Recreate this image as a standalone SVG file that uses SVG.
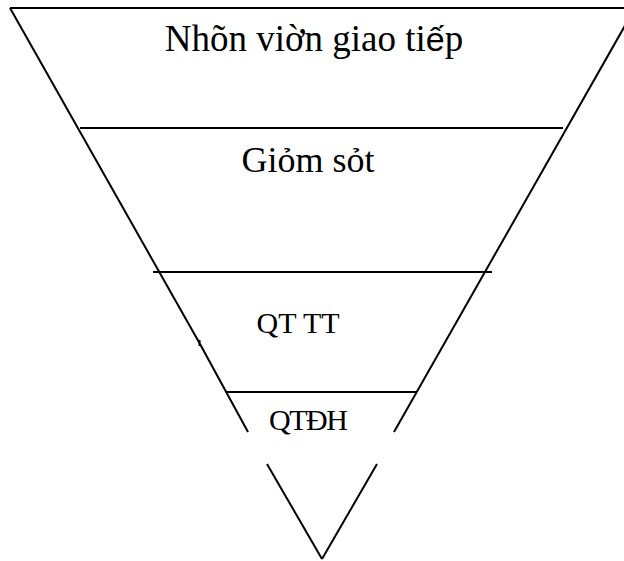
<svg xmlns="http://www.w3.org/2000/svg" width="624" height="561" viewBox="0 0 624 561">
<style>
.ln{stroke:#000;stroke-width:2;fill:none;stroke-linecap:butt}
.t{font-family:"Liberation Serif","Times New Roman",serif;fill:#000;text-anchor:middle}
</style>
<rect width="624" height="561" fill="#fff"/>
<g id="connectors">
<line class="ln" x1="10" y1="8" x2="624" y2="8"/>
<polyline class="ln" points="10,8 200,344"/>
<line class="ln" x1="199.5" y1="340" x2="199.5" y2="346"/>
<polyline class="ln" points="200,344 248,432"/>
<line class="ln" x1="267" y1="464" x2="322" y2="559"/>
<line class="ln" x1="322" y1="559" x2="377" y2="464"/>
<line class="ln" x1="394" y1="432" x2="635" y2="8"/>
<line class="ln" x1="80" y1="128" x2="563" y2="128"/>
<line class="ln" x1="153" y1="272" x2="492" y2="272"/>
<line class="ln" x1="227" y1="392" x2="417" y2="392"/>
</g>
<g id="n1"><text class="t" x="314" y="51" font-size="37">Nhõn viờn giao ti<tspan font-family="Liberation Sans, Arial, sans-serif" font-size="34">ế</tspan>p</text></g>
<g id="n2"><text class="t" x="308" y="172" font-size="36">Giỏm sỏt</text></g>
<g id="n3"><text class="t" x="298" y="333" font-size="30">QT TT</text></g>
<g id="n4"><text class="t" x="308.5" y="430" font-size="30" textLength="79" lengthAdjust="spacing">QTĐH</text></g>
</svg>
